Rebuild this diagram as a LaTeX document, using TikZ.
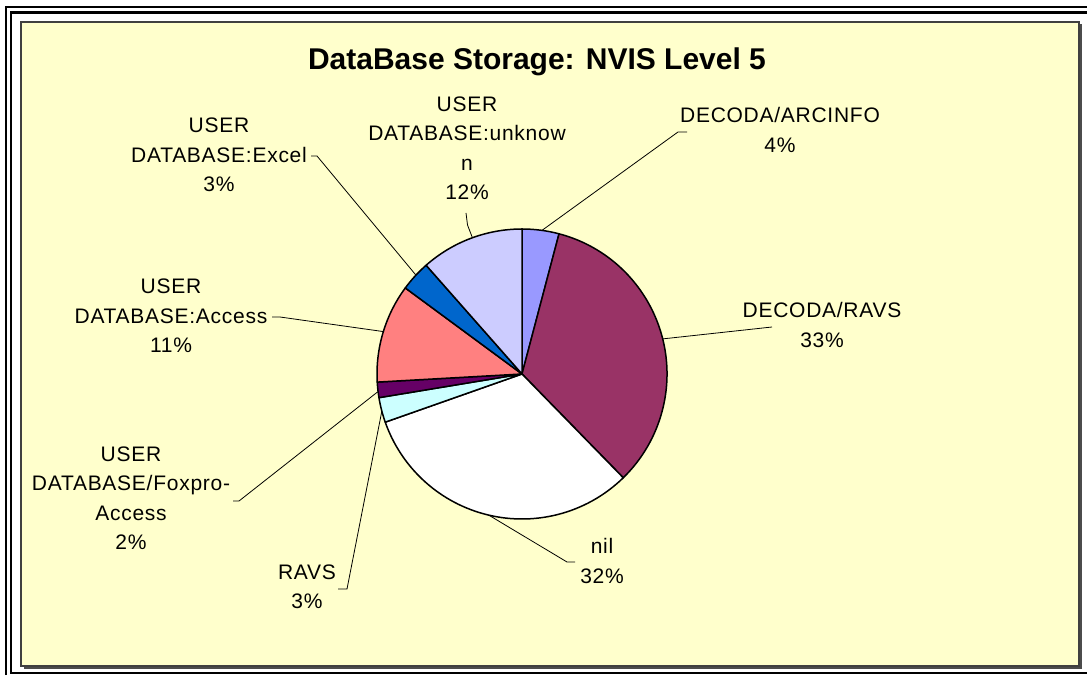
\documentclass[tikz,border=0pt]{standalone}
\usepackage{fontspec}
\setmainfont{Liberation Sans}
\newfontfamily\lblfont[LetterSpace=3.5]{Liberation Sans}
\usetikzlibrary{positioning}
\definecolor{bgyellow}{HTML}{FFFFCC}
\definecolor{arcinfo}{HTML}{9999FF}
\definecolor{decoda}{HTML}{993366}
\definecolor{nilwhite}{HTML}{FFFFFF}
\definecolor{ravs}{HTML}{CCFFFF}
\definecolor{foxpro}{HTML}{660066}
\definecolor{access}{HTML}{FF8080}
\definecolor{excel}{HTML}{0066CC}
\definecolor{unknown}{HTML}{CCCCFF}
\begin{document}
\begin{tikzpicture}[x=1pt,y=1pt,
    slice/.style={draw=black,line width=1.5pt,line join=round},
    lbl/.style={align=center,inner sep=0pt,font=\lblfont\fontsize{21}{29.5}\selectfont},
    lead/.style={draw=black,line width=0.8pt}]
    \useasboundingbox (0,0) rectangle (1087,675);
    \fill[white] (0,0) rectangle (1087,675);
    % frame
    \draw[line width=2pt] (5.5,0) |- (1087,668);
    \draw[line width=2.6pt] (1087,2) -| (11,662.5) -- (1087,662.5);
    \fill[black!70] (23.5,6.5) rectangle (1082,651);
    \filldraw[fill=bgyellow,draw=black!75,line width=1.5pt] (21,9) rectangle (1079,653);
    \node[font=\bfseries\fontsize{30}{36}\selectfont] (title) at (537,613) {DataBase Storage: NVIS Level 5};
    % pie
    \node[circle,minimum size=290pt,inner sep=0pt] (pie) at (522,301) {};
    \foreach \a/\b/\c in {90/75.2/arcinfo, 75.2/-45.7/decoda, -45.7/-160.6/nilwhite,
        -160.6/-170.6/ravs, -170.6/-176.8/foxpro, -176.8/-216.4/access,
        -216.4/-228.6/excel, -228.6/-270/unknown}
        \filldraw[slice,fill=\c] (pie.center) -- ++(\a:145pt) arc[start angle=\a,end angle=\b,radius=145pt] -- cycle;
    % labels
    \node[lbl] (l-arcinfo) at (780,545) {DECODA/ARCINFO\\4\%};
    \node[lbl] (l-decoda) at (822,350) {DECODA/RAVS\\33\%};
    \node[lbl] (l-nil) at (602,114) {nil\\32\%};
    \node[lbl] (l-ravs) at (307,88) {RAVS\\3\%};
    \node[lbl] (l-foxpro) at (131,177) {USER\\DATABASE/Foxpro-\\Access\\2\%};
    \node[lbl] (l-access) at (171,359) {USER\\DATABASE:Access\\11\%};
    \node[lbl] (l-excel) at (219,520) {USER\\DATABASE:Excel\\3\%};
    \node[lbl] (l-unknown) at (467,527) {USER\\DATABASE:unknow\\n\\12\%};
    % leader lines
    \coordinate (t-arcinfo) at (687,543);
    \coordinate (t-decoda) at (772,348);
    \coordinate (t-nil) at (575,113);
    \coordinate (t-ravs) at (338,86);
    \coordinate (t-foxpro) at (233,174);
    \coordinate (t-access) at (272,358);
    \coordinate (t-excel) at (311,519);
    \coordinate (t-unknown) at (466,462);
    \path[lead]
        (t-arcinfo) -- ++(-9,0) -- (pie.82.6)
        (t-decoda) -- (pie.14.7)
        (t-nil) -- ++(-8,0) -- (pie.-103.1)
        (t-ravs) -- ++(9,0) -- (pie.-165.6)
        (t-foxpro) -- ++(6,0) -- (pie.-173.7)
        (t-access) -- ++(8,0) -- (pie.163.4)
        (t-excel) -- ++(6,0) -- (pie.137.5)
        (t-unknown) -- ++(1.5,-12) -- (pie.110.7);
\end{tikzpicture}
\end{document}
